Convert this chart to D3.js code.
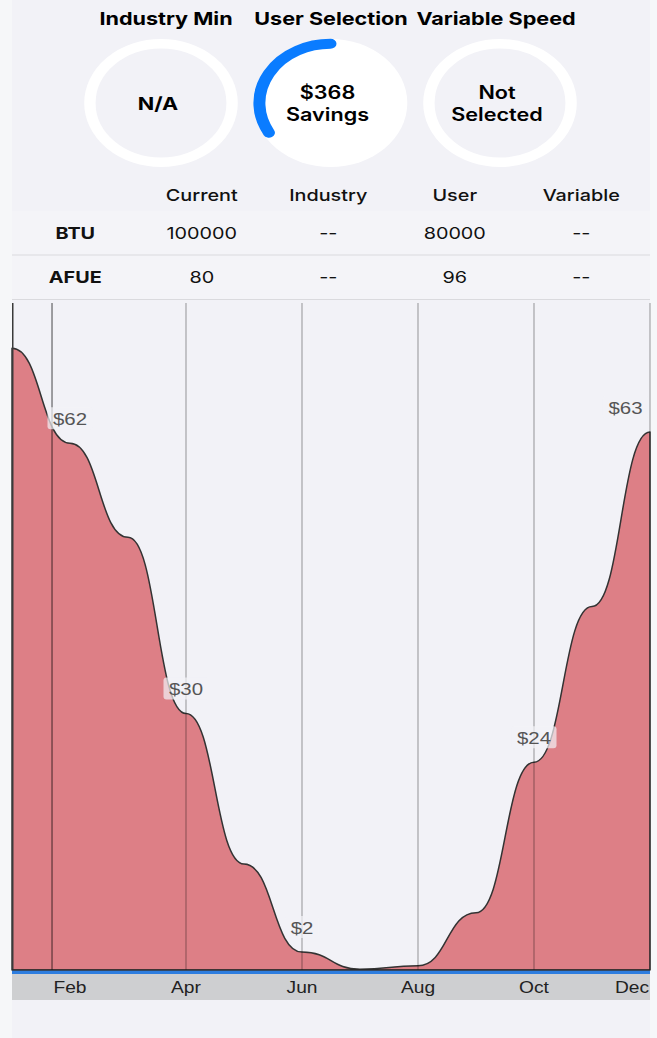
<!DOCTYPE html>
<html><head><meta charset="utf-8">
<script src="https://cdn.jsdelivr.net/npm/d3@7"></script>
<style>
html,body{margin:0;padding:0;background:#f6f7f9;}
svg{display:block;}
</style></head><body>
<svg id="c" width="657" height="1038"></svg>
<script>
// ---------- data ----------
const gaugeTitles = ["Industry Min", "User Selection", "Variable Speed"];
const gaugeLines = [["N/A"], ["$368", "Savings"], ["Not", "Selected"]];
const gaugeFraction = [null, 1/3, null];
const tableColumns = ["", "Current", "Industry", "User", "Variable"];
const tableRows = ["BTU", "AFUE"];
const btuValues = ["100000", "--", "80000", "--"];
const afueValues = ["80", "--", "96", "--"];
const months = ["Jan","Feb","Mar","Apr","May","Jun","Jul","Aug","Sep","Oct","Nov","Dec"];
const monthlySavings = [72.7, 61.6, 50.6, 30.0, 12.4, 2.1, 0.1, 0.5, 6.7, 24.3, 42.5, 62.9];
const tickMonths = ["Feb","Apr","Jun","Aug","Oct","Dec"];
const gridMonthIdx = [0.69, 3, 5, 7, 9, 11];
const labelMonths = ["Feb","Apr","Jun","Oct","Dec"];
const yMax = 78;

// ---------- setup ----------
const svg = d3.select("#c");
const H = 1038, L = 12, R = 650;
const SX = 1.2; // horizontal stretch of the source rendering
const UI = "Inter, 'Noto Sans', sans-serif";
const CH = "'Liberation Sans', Arial, sans-serif";

svg.append("rect").attr("x", L).attr("y", 0).attr("width", R - L).attr("height", H).attr("fill", "#f2f2f7");

function txt(g, x, y, s, o) {
  return g.append("text")
    .attr("transform", `translate(${x},${y}) scale(${SX},1)`)
    .attr("text-anchor", o.anchor || "middle")
    .style("font-family", o.font || UI)
    .style("font-size", o.size + "px")
    .style("font-weight", o.weight || 400)
    .attr("fill", o.color || "#000")
    .text(s);
}

// ---------- gauges ----------
const gx = d3.scalePoint().domain(d3.range(gaugeTitles.length)).range([161, 500]);
const tx = d3.scalePoint().domain(d3.range(gaugeTitles.length)).range([166, 496]);
const GY = 103, GR = 59.25, GW = 9.5;
gaugeTitles.forEach((t, i) => txt(svg, tx(i), 25, t, {size: 18, weight: 700}));
gaugeLines.forEach((lines, i) => {
  const g = svg.append("g").attr("transform", `translate(${gx(i)},${GY}) scale(${SX},1)`);
  if (gaugeFraction[i] != null) {
    g.append("circle").attr("r", GR + GW / 2).attr("fill", "#fff");
    const p = d3.path();
    p.arc(0, 0, GR, -Math.PI / 2, -Math.PI / 2 - 2 * Math.PI * gaugeFraction[i], true);
    g.append("path").attr("d", p.toString()).attr("fill", "none")
      .attr("stroke", "#0a7cff").attr("stroke-width", GW + 0.5).attr("stroke-linecap", "round");
  } else {
    g.append("circle").attr("r", GR).attr("fill", "none").attr("stroke", "#fff").attr("stroke-width", GW);
  }
  const bases = lines.length === 1 ? [110] : [98.5, 121];
  lines.forEach((s, k) => txt(svg, gx(i) - 3, bases[k], s, {size: 18, weight: lines.length === 1 ? 700 : 600}));
});

// ---------- table ----------
const colX = d3.scaleBand().domain(d3.range(tableColumns.length)).range([L, 644.5]);
const rowY = d3.scaleBand().domain(tableRows).range([211, 300]);
svg.append("rect").attr("x", L).attr("y", 211).attr("width", R - L).attr("height", 89).attr("fill", "#f4f4f8");
tableColumns.forEach((c, i) => { if (c) txt(svg, colX(i) + colX.bandwidth() / 2, 200.5, c, {size: 16.5, weight: 500, color: "#111"}); });
const rowVals = {BTU: btuValues, AFUE: afueValues};
tableRows.forEach(r => {
  const top = rowY(r);
  svg.append("line").attr("x1", L).attr("x2", R).attr("y1", top + rowY.bandwidth() - 0.5).attr("y2", top + rowY.bandwidth() - 0.5)
    .attr("stroke", "#dadade").attr("stroke-width", 1);
  txt(svg, colX(0) + colX.bandwidth() / 2, top + 27.5, r, {size: 16.5, weight: 700, color: "#111"});
  rowVals[r].forEach((v, j) => txt(svg, colX(j + 1) + colX.bandwidth() / 2, top + 27.5, v, {size: 16.5, weight: 400, color: "#111"}));
});

// ---------- chart ----------
const x = d3.scaleLinear().domain([0, months.length - 1]).range([L, R]);
const y = d3.scaleLinear().domain([0, yMax]).range([970, 303]);

const area = d3.area().x((d, i) => x(i)).y0(y(0)).y1(d => y(d)).curve(d3.curveBumpX);
svg.append("path").attr("d", area(monthlySavings)).attr("fill", "#dd7f86")
  .attr("stroke", "#333").attr("stroke-width", 1.5).attr("stroke-linejoin", "round");

gridMonthIdx.forEach((m, k) => {
  svg.append("line").attr("x1", x(m)).attr("x2", x(m)).attr("y1", y(yMax)).attr("y2", y(0))
    .attr("stroke", "#000").attr("stroke-opacity", k === 0 ? 0.55 : 0.3).attr("stroke-width", 1.3);
});
svg.append("line").attr("x1", L + 0.75).attr("x2", L + 0.75).attr("y1", y(yMax)).attr("y2", y(0))
  .attr("stroke", "#3a3a3a").attr("stroke-width", 1.5);

// baseline + axis band
svg.append("rect").attr("x", L).attr("y", y(0) + 0.5).attr("width", R - L).attr("height", 3.5).attr("fill", "#2d7ddf");
svg.append("line").attr("x1", L).attr("x2", R).attr("y1", y(0)).attr("y2", y(0)).attr("stroke", "#222").attr("stroke-width", 1.2);
svg.append("rect").attr("x", L).attr("y", y(0) + 4).attr("width", R - L).attr("height", 26).attr("fill", "#cecfd1");

tickMonths.forEach(m => {
  const t = txt(svg, 0, 0, m, {size: 16, font: CH, color: "#222"});
  const w = t.node().getComputedTextLength() * SX;
  const cx = Math.min(Math.max(x(months.indexOf(m)), L + w / 2), R - 1 - w / 2);
  t.attr("transform", `translate(${cx},${y(0) + 23}) scale(${SX},1)`);
});

// value labels
labelMonths.forEach(m => {
  const i = months.indexOf(m), v = monthlySavings[i];
  const g = svg.append("g");
  const box = g.append("rect").attr("rx", 3).attr("fill", "#f2f2f7").attr("fill-opacity", 0.7);
  const t = txt(g, 0, 0, "$" + Math.round(v), {size: 17, font: CH, color: "#555"});
  const w = t.node().getComputedTextLength() * SX + 11;
  const cx = Math.min(Math.max(x(i), L + w / 2), R - 2 - w / 2);
  const by = y(v) - 18.5;
  t.attr("transform", `translate(${cx},${by}) scale(${SX},1)`);
  box.attr("x", cx - w / 2).attr("y", by - 17.5).attr("width", w).attr("height", 22);
});
</script>
</body></html>
